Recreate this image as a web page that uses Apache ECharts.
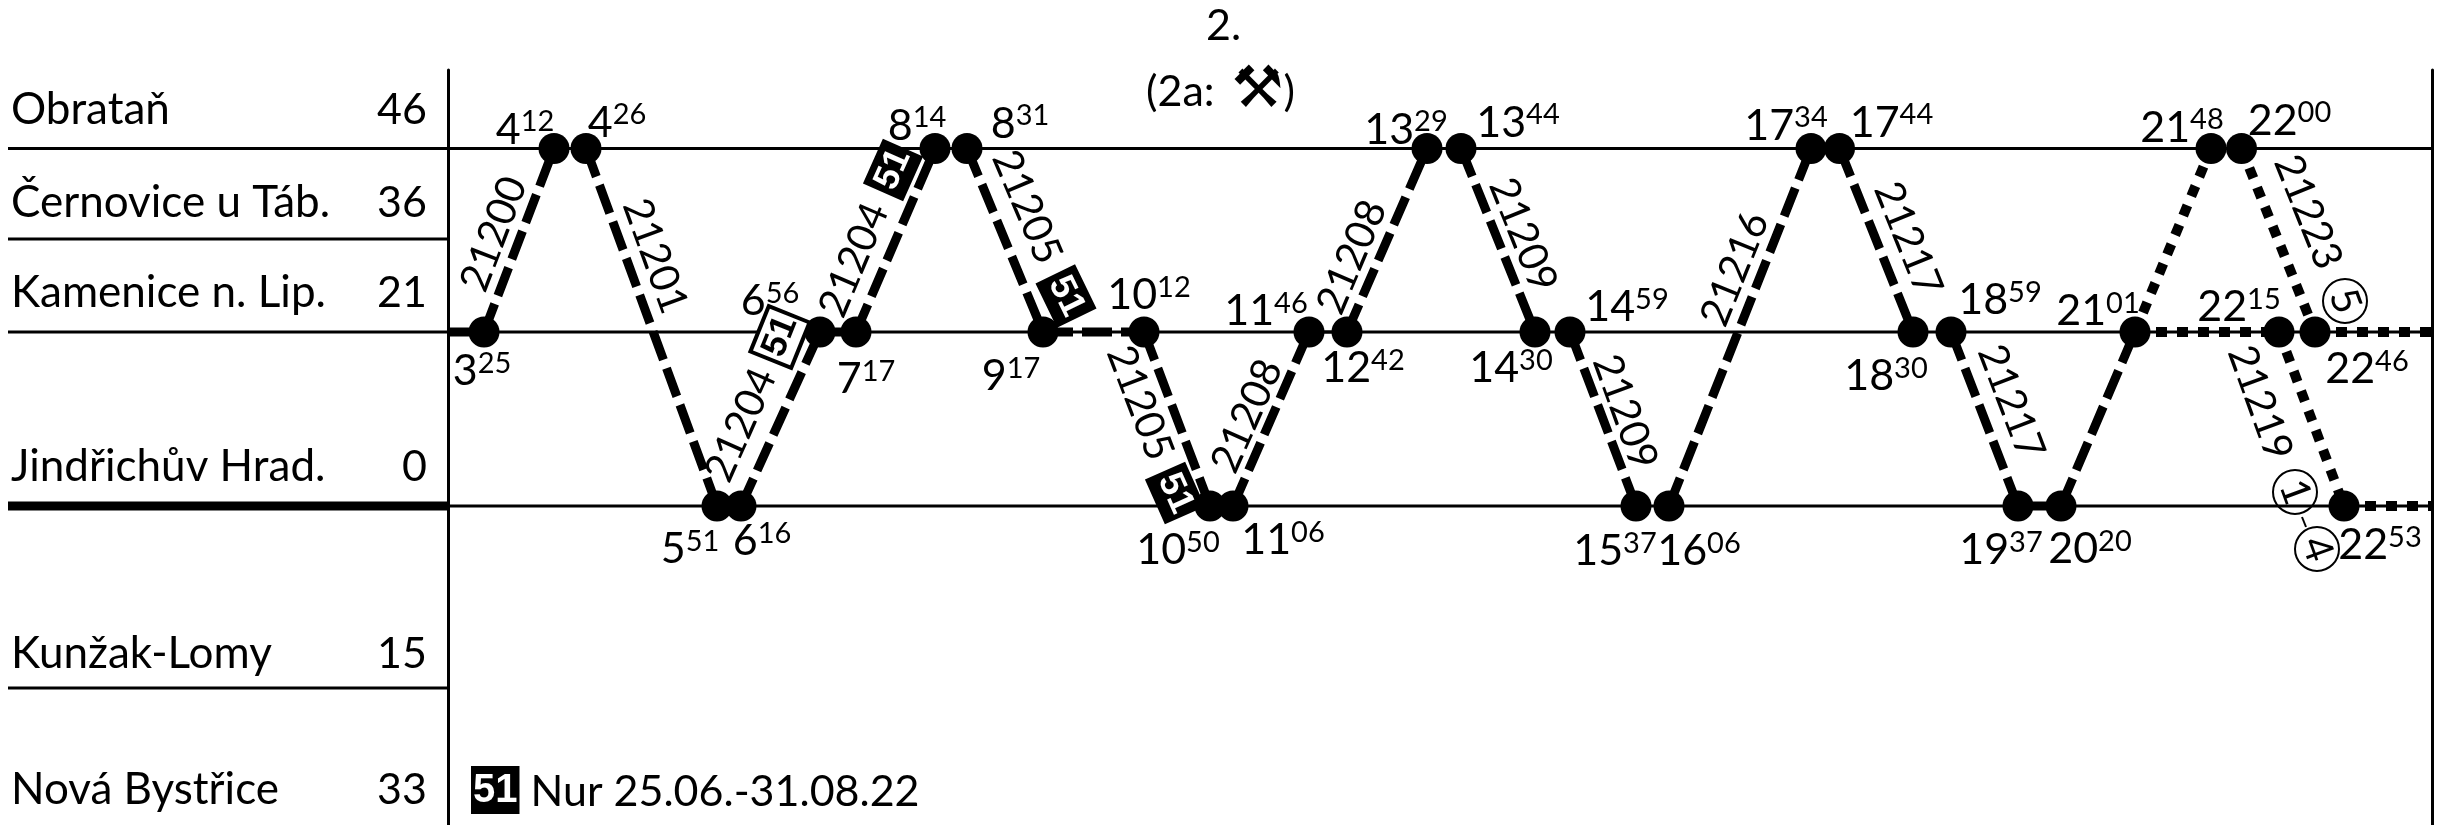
<!DOCTYPE html>
<html>
<head>
<meta charset="utf-8">
<title>Jindřichův Hradec</title>
<style>
html, body { margin: 0; padding: 0; background: #fff; }
#chart-container { width: 2448px; height: 825px; }
</style>
<script src="https://cdn.jsdelivr.net/npm/echarts@6/dist/echarts.min.js"></script>
</head>
<body>
<div id="chart-container"></div>
<script>
// stations (left panel)
var stationNames = ['Obrataň', 'Černovice u Táb.', 'Kamenice n. Lip.', 'Jindřichův Hrad.', 'Kunžak-Lomy', 'Nová Bystřice'];
var stationKm = ['46', '36', '21', '0', '15', '33'];
var stationTextRow = [198, 151.5, 106.5, 19.5, -74, -142];
var stationRuleRow = [178.75, 133.5, 87, 0, -91, null];

// rows of the three served stations on the diagram
var rowObr = 178.75, rowKam = 87, rowJH = 0;

// stops: printed time, position along the diagram, row
var stopTimes = ['3:25', '4:12', '4:26', '5:51', '6:16', '6:56', '7:17', '8:14', '8:31', '9:17', '10:12',
	'10:50', '11:06', '11:46', '12:42', '13:29', '13:44', '14:30', '14:59', '15:37', '16:06', '17:34',
	'17:44', '18:30', '18:59', '19:37', '20:20', '21:01', '21:48', '22:00', '22:15', '22:46', '22:53'];
var stopPos = [18, 53, 69, 134.5, 146.5, 186, 204, 243.5, 259.5, 297.5, 348,
	381, 392.5, 430.5, 449.5, 489.5, 506.5, 543.5, 561, 594, 610.5, 681.5,
	695.75, 732.5, 751.5, 785, 806.5, 843.5, 881.5, 896.75, 915.5, 933.5, 948];
var stopRow = [rowKam, rowObr, rowObr, rowJH, rowJH, rowKam, rowKam, rowObr, rowObr, rowKam, rowKam,
	rowJH, rowJH, rowKam, rowKam, rowObr, rowObr, rowKam, rowKam, rowJH, rowJH, rowObr,
	rowObr, rowKam, rowKam, rowJH, rowJH, rowKam, rowObr, rowObr, rowKam, rowKam, rowJH];

// runs between stops: [from stop, to stop]
var dashedRuns = [[0, 1], [2, 3], [4, 5], [6, 7], [8, 9], [9, 10], [10, 11], [12, 13], [14, 15], [16, 17],
	[18, 19], [20, 21], [22, 23], [24, 25], [26, 27]];
var dottedRuns = [[27, 28], [29, 31], [27, 30], [30, 32]];
var solidRuns = [[3, 4], [5, 6], [25, 26]];
var thinRuns = [[13, 14]];

// train numbers: text, position, row, slant
var trainNumbers = ['21200', '21201', '21204', '21204', '21205', '21205', '21208', '21208', '21209', '21209', '21216', '21217', '21217', '21223', '21219'];
var trainPos = [23, 103.5, 146.5, 203, 289.5, 346, 399.5, 452, 537.5, 588.5, 643.5, 730, 781.5, 930, 906];
var trainRow = [136, 125, 40.5, 123, 149.5, 51.5, 45, 124.5, 135.5, 47, 118.5, 133.5, 52, 147, 51.5];
var trainSlant = [69, -70, 66, 67, -67, -69, 66, 67, -68, -70, 68, -68, -69, -68, -70];

// footnote marks "51"
var notePos = [166, 222.5, 309, 363.5];
var noteRow = [84.5, 168, 105, 6.5];
var noteSlant = [68, 66, -64, -66];
var noteInverted = [true, false, false, false];

// circled remarks
var circleText = ['5', '1', '4'];
var circlePos = [948.5, 923.5, 934.5];
var circleRow = [102.5, 7, -21.5];

var footnote = 'Nur 25.06.-31.08.22';

// where each time label sits relative to its dot
var timeLabelOffset = [[-2, 39], [-29, -19], [31, -26], [-27, 43], [21, 35], [-50, -31], [10, 47], [-18, -23], [53, -25], [-32, 44], [5, -37],
	[-32, 44], [50, 34], [-43, -21], [16, 36], [-21, -19], [57, -26], [-24, 36], [57, -25], [-21, 45], [30, 45], [-25, -23],
	[52, -26], [-27, 44], [49, -32], [-17, 44], [29, 43], [-37, -21], [-29, -21], [48, -28], [-40, -25], [52, 37], [36, 39]];

var font = 'Lato';
var solidItem = { color: '#000', opacity: 1 };
var chartDom = document.getElementById('chart-container');
var myChart = echarts.init(chartDom);

function runSeries(runs, width, type) {
	return runs.map(function (r) {
		return {
			type: 'line', xAxisIndex: 0, yAxisIndex: 0, symbol: 'none', silent: true, z: 3,
			data: [[stopPos[r[0]], stopRow[r[0]]], [stopPos[r[1]], stopRow[r[1]]]],
			lineStyle: { color: '#000', width: width, type: type, cap: 'butt', opacity: 1 }
		};
	});
}

function rule(x0, x1, row, width, left) {
	return {
		type: 'line', xAxisIndex: left ? 1 : 0, yAxisIndex: left ? 2 : 0, symbol: 'none', silent: true, z: 2,
		data: [[x0, row], [x1, row]],
		lineStyle: { color: '#000', width: width, opacity: 1 }
	};
}

var series = [];

// station rules
stationRuleRow.forEach(function (row, i) {
	if (row !== null) series.push(rule(8, 448, row, i === 3 ? 9 : 3, true));
});
series.push(rule(0, 992, rowObr, 3), rule(0, 992, rowKam, 3), rule(0, 992, rowJH, 3));
series.push(rule(0, stopPos[0], rowKam, 9));

series = series.concat(runSeries(dashedRuns, 9, [30, 9]));
series = series.concat(runSeries(dottedRuns, 10, [11, 10]));
series = series.concat(runSeries(solidRuns, 9, 'solid'));
series = series.concat(runSeries(thinRuns, 3, 'solid'));

// run-out to the right edge
series.push({
	type: 'line', symbol: 'none', silent: true, z: 3,
	data: [[stopPos[31], rowKam], [992, rowKam]],
	lineStyle: { color: '#000', width: 10, type: [11, 10], cap: 'butt' }
}, {
	type: 'line', symbol: 'none', silent: true, z: 3,
	data: [[stopPos[32], rowJH], [992, rowJH]],
	lineStyle: { color: '#000', width: 10, type: [11, 10], cap: 'butt' }
});

// stops with their times
series.push({
	type: 'scatter', symbol: 'circle', symbolSize: 31, z: 5, silent: true,
	itemStyle: solidItem,
	data: stopTimes.map(function (t, i) {
		return {
			value: [stopPos[i], stopRow[i]],
			label: { offset: timeLabelOffset[i] }
		};
	}),
	label: {
		show: true, position: 'inside',
		formatter: function (p) {
			var parts = stopTimes[p.dataIndex].split(':');
			return '{h|' + parts[0] + '}{m|' + parts[1] + '}';
		},
		rich: {
			h: { fontFamily: font, fontSize: 43, color: '#000', lineHeight: 44, verticalAlign: 'bottom' },
			m: { fontFamily: font, fontSize: 29, color: '#000', lineHeight: 29, verticalAlign: 'top', padding: [0, 0, 13, 0] }
		}
	}
});

// train numbers
series.push({
	type: 'scatter', symbolSize: 0, z: 6, silent: true, itemStyle: solidItem,
	data: trainNumbers.map(function (t, i) {
		return { value: [trainPos[i], trainRow[i]], name: t, label: { rotate: trainSlant[i] } };
	}),
	label: { show: true, position: 'inside', formatter: '{b}', fontFamily: font, fontSize: 41, color: '#000' }
});

// "51" marks
series.push({
	type: 'scatter', symbolSize: 0, z: 7, silent: true, itemStyle: solidItem,
	data: notePos.map(function (x, i) {
		return {
			value: [x, noteRow[i]],
			label: {
				rotate: noteSlant[i],
				color: noteInverted[i] ? '#000' : '#fff',
				backgroundColor: noteInverted[i] ? '#fff' : '#000',
				borderWidth: noteInverted[i] ? 4 : 2
			}
		};
	}),
	label: {
		show: true, position: 'inside', formatter: '51',
		fontFamily: 'Liberation Sans', fontWeight: 'bold', fontSize: 36,
		borderColor: '#000', padding: [3, 2, 1, 3]
	}
});

// circled remarks
series.push({
	type: 'scatter', symbol: 'circle', symbolSize: 44, z: 6, silent: true,
	itemStyle: { color: 'rgba(255,255,255,0)', borderColor: '#000', borderWidth: 2, opacity: 1 },
	data: circleText.map(function (t, i) {
		return { value: [circlePos[i], circleRow[i]], name: t };
	}),
	label: { show: true, position: 'inside', rotate: -70, formatter: '{b}', fontFamily: font, fontSize: 40, color: '#000' }
});
series.push({
	type: 'line', symbol: 'none', silent: true, z: 6,
	data: [[927, -5.5], [929, -10.5]],
	lineStyle: { color: '#000', width: 2 }
});

// footnote
series.push({
	type: 'scatter', symbolSize: 0, z: 6, silent: true, itemStyle: solidItem,
	data: [[11.5, -142]],
	label: {
		show: true, position: 'right', distance: 0,
		formatter: '{b|51}{t| ' + footnote + '}',
		rich: {
			b: { fontFamily: 'Liberation Sans', fontWeight: 'bold', fontSize: 40, color: '#fff', backgroundColor: '#000', padding: [5, 2, 3, 2] },
			t: { fontFamily: font, fontSize: 43, color: '#000', padding: [4, 0, 0, 0] }
		}
	}
});

// station names and km
series.push({
	type: 'scatter', xAxisIndex: 1, yAxisIndex: 2, symbolSize: 0, silent: true, itemStyle: solidItem,
	data: stationNames.map(function (n, i) { return { value: [11, stationTextRow[i]], name: n }; }),
	label: { show: true, position: 'right', distance: 0, formatter: '{b}', fontFamily: font, fontSize: 44, color: '#000' }
}, {
	type: 'scatter', xAxisIndex: 1, yAxisIndex: 2, symbolSize: 0, silent: true, itemStyle: solidItem,
	data: stationKm.map(function (k, i) { return { value: [427, stationTextRow[i]], name: k }; }),
	label: { show: true, position: 'left', distance: 0, formatter: '{b}', fontFamily: font, fontSize: 43, color: '#000' }
});

var hiddenAxis = { show: false };

var option = {
	animation: false,
	backgroundColor: '#fff',
	title: [
		{ text: '2.', left: 1201, top: 0, textStyle: { fontFamily: font, fontSize: 43, fontWeight: 'normal', color: '#000' } },
		{
			text: '(2a:{i|⚒}{p|)}', left: 1141, top: 58,
			textStyle: {
				fontFamily: font, fontSize: 43, fontWeight: 'normal', color: '#000',
				rich: {
					i: { fontFamily: 'DejaVu Sans', fontSize: 58, color: '#000', padding: [0, 0, 0, 17] },
					p: { fontFamily: font, fontSize: 43, color: '#000' }
				}
			}
		}
	],
	grid: [
		{ left: 448, right: 16, top: 70, bottom: 0 },
		{ left: 0, width: 448, top: 70, bottom: 0 }
	],
	xAxis: [
		{ type: 'value', gridIndex: 0, min: 0, max: 992, show: false },
		{ type: 'value', gridIndex: 1, min: 0, max: 448, show: false }
	],
	yAxis: [
		{
			type: 'value', gridIndex: 0, min: -159.5, max: 218, position: 'left',
			axisLine: { show: true, onZero: false, lineStyle: { color: '#000', width: 3 } },
			axisTick: hiddenAxis, axisLabel: hiddenAxis, splitLine: hiddenAxis
		},
		{
			type: 'value', gridIndex: 0, min: -159.5, max: 218, position: 'right',
			axisLine: { show: true, onZero: false, lineStyle: { color: '#000', width: 3 } },
			axisTick: hiddenAxis, axisLabel: hiddenAxis, splitLine: hiddenAxis
		},
		{ type: 'value', gridIndex: 1, min: -159.5, max: 218, show: false }
	],
	series: series
};

myChart.setOption(option);

window.addEventListener('resize', function () {
	myChart.resize();
});
</script>
</body>
</html>
